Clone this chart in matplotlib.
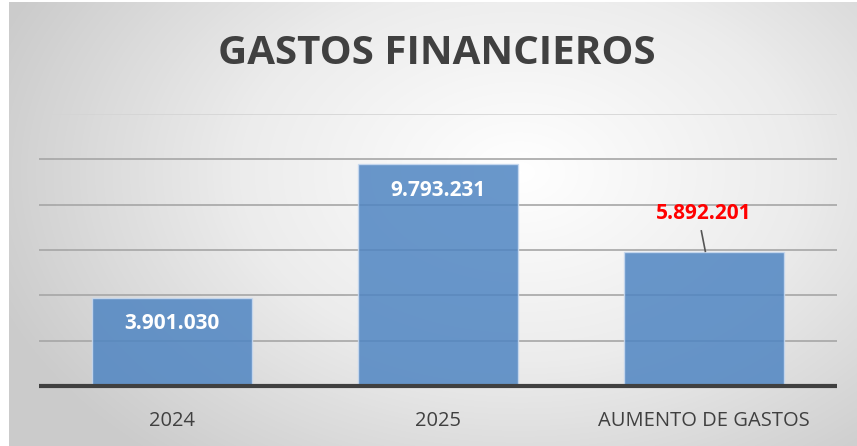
import numpy as np
import matplotlib.pyplot as plt
from matplotlib.colors import LinearSegmentedColormap

categories = ["2024", "2025", "AUMENTO DE GASTOS"]
values = [3901030, 9793231, 5892201]
labels = ["3.901.030", "9.793.231", "5.892.201"]
label_colors = ["white", "white", "#ff0000"]

fig = plt.figure(figsize=(8.57, 4.46), dpi=100)
fig.patch.set_facecolor("white")

# radial gray background of the chart area
bg = fig.add_axes([9 / 857, 0, 848 / 857, 444 / 446], zorder=0)
yy, xx = np.mgrid[0:444, 0:848]
r = np.sqrt(((xx - 510) / 560.0) ** 2 + ((yy - 170) / 380.0) ** 2)
cmap = LinearSegmentedColormap.from_list("bg", ["#ffffff", "#ececec", "#cbcbcb"])
bg.imshow(np.clip(r, 0, 1), cmap=cmap, aspect="auto", vmin=0, vmax=1)
bg.set_axis_off()

ax = fig.add_axes([39 / 857, 60 / 446, 798 / 857, 272 / 446], zorder=1)
ax.patch.set_alpha(0)
x = np.arange(len(categories))
ax.set_xlim(-0.5, 2.5)
ax.set_ylim(0, 12000000)

for yv in [2e6, 4e6, 6e6, 8e6, 10e6]:
    ax.axhline(yv, color="#a6a6a6", lw=1.2, zorder=1)
ax.axhline(12e6, color="#d4d4d4", lw=1.2, zorder=1)

ax.bar(x, values, width=0.6, color="#4f85c2", alpha=0.85,
       edgecolor="#c9daf0", linewidth=1, zorder=2)
ax.axhline(0, color="#404040", lw=3, zorder=3, clip_on=False,
           solid_capstyle="butt")

for i in range(2):
    ax.text(x[i], values[i] - 1.15e6, labels[i], ha="center", va="center",
            color=label_colors[i], fontsize=15, fontweight="bold",
            family="Open Sans", zorder=4)
ax.text(x[2], values[2] + 1.7e6, labels[2], ha="center", va="center",
        color=label_colors[2], fontsize=15, fontweight="bold",
        family="Open Sans", zorder=4)
ax.plot([x[2] - 0.01, x[2] + 0.005], [values[2] + 0.95e6, values[2] + 0.05e6],
        color="#555555", lw=1.2, zorder=4)

ax.set_xticks(x)
ax.set_xticklabels(categories, fontsize=14.5, color="#404040", family="Open Sans")
ax.tick_params(axis="x", length=0, pad=18)
ax.set_yticks([])
for s in ax.spines.values():
    s.set_visible(False)

fig.text(437 / 857, 1 - 54 / 446, "GASTOS FINANCIEROS", ha="center", va="center",
         fontsize=29, fontweight="bold", color="#404040", family="Open Sans")

fig.savefig("out.png", dpi=100)
